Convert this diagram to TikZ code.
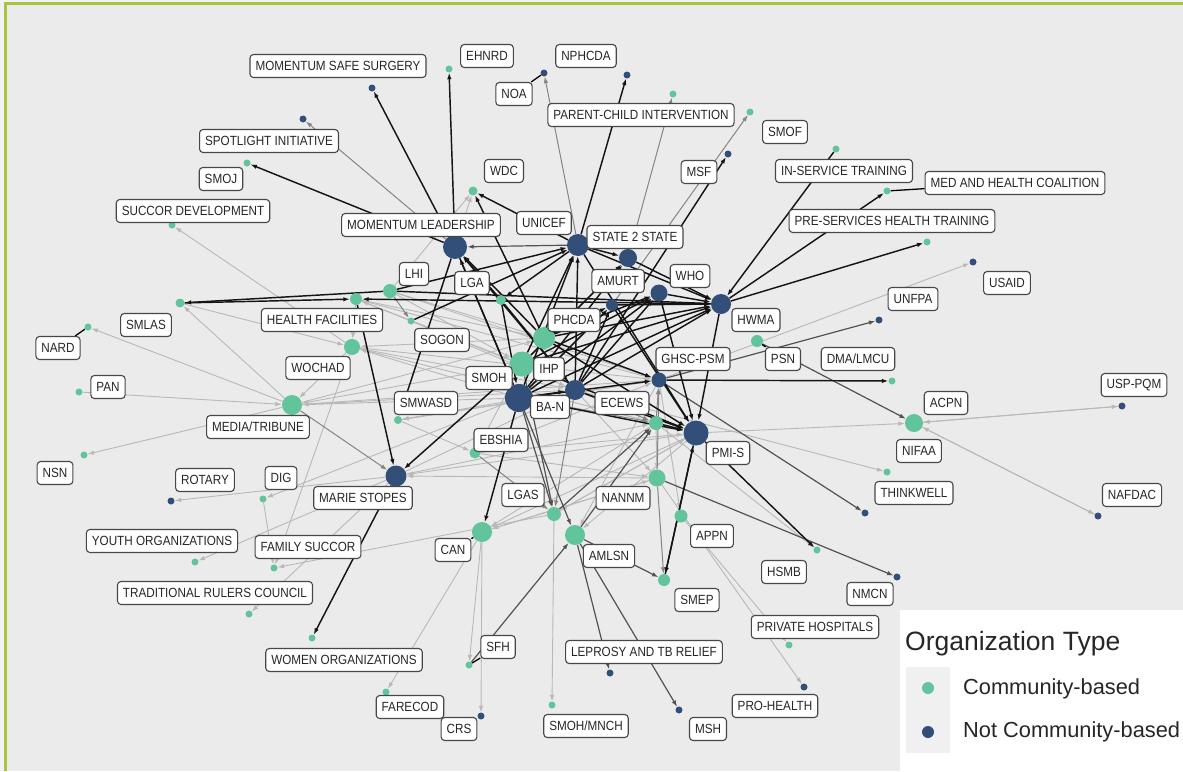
\documentclass[tikz,border=0pt]{standalone}
\usepackage{fontspec}
\setmainfont{Liberation Sans}
\newfontfamily\lblfont[FakeStretch=0.88]{Liberation Sans}
\usetikzlibrary{arrows.meta}
\pgfdeclarelayer{bgl}
\pgfdeclarelayer{edges}
\pgfsetlayers{bgl,edges,main}
\definecolor{cbg}{RGB}{235,235,235}
\definecolor{cgreen}{RGB}{98,196,155}
\definecolor{cblue}{RGB}{49,79,120}
\definecolor{cframe}{RGB}{166,196,62}
\tikzset{
 cb/.style={circle,fill=cgreen,inner sep=0pt,minimum size=#1},
 nc/.style={circle,fill=cblue,inner sep=0pt,minimum size=#1},
 lbl/.style={draw=black!72,fill=white,rounded corners=3.5pt,line width=1.1pt,inner xsep=5.5pt,inner ysep=0pt,minimum height=23pt,font=\lblfont\fontsize{13.3}{15}\selectfont,text=black!85},
 tip/.style={-{Latex[length=6.5pt,width=4.5pt]}},
 el/.style={tip,draw=black!28,line width=0.9pt},
 eg/.style={tip,draw=black!48,line width=1pt},
 ed/.style={tip,draw=black!68,line width=1.2pt},
 eb/.style={tip,draw=black!92,line width=1.45pt},
 seg/.style={draw=black,line width=1.3pt},
}
\begin{document}
\begin{tikzpicture}[x=1pt,y=-1pt]
\useasboundingbox (0,0) rectangle (1183,771);
\begin{pgfonlayer}{bgl}
\fill[black!5] (0,0) rectangle (1183,771);
\fill[cbg] (7,5) rectangle (1183,771);
\draw[cframe,line width=3pt] (5.5,771) -- (5.5,3.5) -- (1183,3.5);
\end{pgfonlayer}
% not community-based
\node[nc=7] (mss) at (372,88) {};
\node[nc=7] (spot) at (303,119) {};
\node[nc=7] (noa) at (544,73) {};
\node[nc=7] (nphcda) at (627,75) {};
\node[nc=7] (msf) at (728,154) {};
\node[nc=7] (usaid) at (973,262) {};
\node[nc=7] (unfpa) at (879,320) {};
\node[nc=7] (usp) at (1122,406) {};
\node[nc=7] (nafdac) at (1098,516) {};
\node[nc=7] (thinkb) at (865,513) {};
\node[nc=7] (nmcn) at (897,577) {};
\node[nc=7] (prohealth) at (804,687) {};
\node[nc=7] (msh) at (679,710) {};
\node[nc=7] (leprosy) at (610,673) {};
\node[nc=7] (crs) at (481,716) {};
\node[nc=7] (rotary) at (171,501) {};
\node[nc=24] (ml) at (455,247) {};
\node[nc=22] (unicef) at (578,245) {};
\node[nc=18] (s2s) at (628,258) {};
\node[nc=12] (amurt) at (612,305) {};
\node[nc=17] (who) at (659,293) {};
\node[nc=20] (hwma) at (721,304) {};
\node[nc=15] (ghsc) at (659,380) {};
\node[nc=20] (ecews) at (575,390) {};
\node[nc=28] (ban) at (519,398) {};
\node[nc=25] (pmis) at (696,433) {};
\node[nc=21] (mstopes) at (396,476) {};
% community-based
\node[cb=7] (ehnrd) at (449,69) {};
\node[cb=7] (pci) at (673,94) {};
\node[cb=7] (smof) at (750,112) {};
\node[cb=7] (ist) at (836,149) {};
\node[cb=7] (mhc) at (887,191) {};
\node[cb=7] (pst) at (927,242) {};
\node[cb=7] (smoj) at (247,163) {};
\node[cb=7] (succor) at (172,225) {};
\node[cb=9] (wdc) at (473,191) {};
\node[cb=9] (smlas) at (180,303) {};
\node[cb=7] (nard) at (88,327) {};
\node[cb=7] (pan) at (79,392) {};
\node[cb=7] (nsn) at (84,455) {};
\node[cb=7] (dig) at (263,499) {};
\node[cb=7] (youth) at (195,562) {};
\node[cb=7] (fsuccor) at (274,568) {};
\node[cb=7] (trc) at (249,614) {};
\node[cb=7] (women) at (312,638) {};
\node[cb=7] (farecod) at (386,692) {};
\node[cb=7] (sfh) at (469,665) {};
\node[cb=7] (smohm) at (552,705) {};
\node[cb=7] (privh) at (789,645) {};
\node[cb=7] (hsmb) at (817,550) {};
\node[cb=12] (smep) at (664,580) {};
\node[cb=13] (appn) at (681,516) {};
\node[cb=7] (dma) at (892,381) {};
\node[cb=7] (thinkw) at (887,472) {};
\node[cb=18] (acpn) at (914,423) {};
\node[cb=12] (psn) at (757,341) {};
\node[cb=14] (lhi) at (390,291) {};
\node[cb=12] (hf) at (356,299) {};
\node[cb=10] (lga) at (501,300) {};
\node[cb=7] (sogon) at (411,321) {};
\node[cb=16] (wochad) at (352,347) {};
\node[cb=20] (media) at (292,405) {};
\node[cb=8] (smwasd) at (398,420) {};
\node[cb=25] (smohg) at (522,364) {};
\node[cb=22] (phcda) at (544,338) {};
\node[cb=11] (ebshia) at (475,453) {};
\node[cb=14] (g656) at (656,423) {};
\node[cb=17] (g657) at (657,478) {};
\node[cb=14] (g554) at (554,514) {};
\node[cb=20] (amlsn) at (575,535) {};
\node[cb=20] (can) at (482,532) {};
% edges
\begin{pgfonlayer}{edges}
\foreach \a/\b in {ml/wdc,ghsc/usaid,pmis/acpn,acpn/usp,usp/acpn,acpn/nafdac,nafdac/acpn,ecews/thinkw,appn/privh,g657/prohealth,g554/smohm,can/crs,can/sfh,can/farecod,mstopes/youth,g554/fsuccor,mstopes/trc,ban/dig,mstopes/rotary,media/nsn,pan/media,media/nard,media/smlas,smlas/wochad,wochad/media,wochad/succor,wochad/fsuccor,ebshia/g657,ecews/smwasd,ghsc/smwasd,smohg/media,ban/media,phcda/wochad,ban/wochad,pmis/mstopes,g657/mstopes,g656/can,pmis/can,g657/can,pmis/amlsn,ghsc/amlsn,smohg/ebshia,g656/hsmb,sogon/ecews,hf/ghsc,lhi/ghsc,lhi/wdc,sogon/hf,smwasd/ebshia,ebshia/pmis,g554/pmis,wochad/ghsc,media/ecews,media/ghsc,dig/fsuccor,hf/wochad,g656/g657,ecews/g657,ghsc/appn,pmis/g554,hf/smohg,lhi/smohg,wochad/ecews,smwasd/ghsc,mstopes/ecews,media/phcda,hf/phcda,sogon/pmis,mstopes/g656,ebshia/ghsc,can/g657,wochad/pmis,lhi/phcda}
 \draw[el] (\a) -- (\b);
\foreach \a/\b in {ml/spot,unicef/noa,s2s/pci,amurt/smof,media/mstopes,g657/smep,g657/ghsc,g656/ghsc,ecews/g656,ban/g656,ecews/g554,ebshia/g554,lhi/sogon}
 \draw[eg] (\a) -- (\b);
\foreach \a/\b in {unicef/ml,ghsc/unfpa,psn/acpn,ghsc/thinkb,g657/nmcn,amlsn/smep,amlsn/msh,amlsn/leprosy,sfh/amlsn,amlsn/g656,g554/g656,ban/amlsn,ban/g554,smohg/g554}
 \draw[ed] (\a) -- (\b);
\foreach \a/\b in {ml/mss,ml/ehnrd,ml/smoj,unicef/nphcda,unicef/wdc,phcda/wdc,ecews/msf,ist/hwma,hwma/mhc,hwma/pst,lhi/smlas,smlas/hf,lhi/unicef,hf/mstopes,ml/smwasd,smohg/mstopes,ghsc/dma,ban/can,pmis/hsmb,pmis/smep,smep/pmis,mstopes/women,phcda/ml,ban/ml,ecews/ml,lga/ml,unicef/s2s,unicef/hwma,ban/unicef,smohg/unicef,ecews/unicef,unicef/lga,s2s/hwma,ban/s2s,smohg/s2s,amurt/hwma,ban/amurt,phcda/amurt,ecews/amurt,amurt/pmis,who/hwma,who/pmis,ban/who,ecews/who,phcda/who,smohg/who,ecews/hwma,ban/hwma,smohg/hwma,phcda/hwma,lhi/hwma,hwma/hf,hwma/pmis,phcda/ghsc,ban/ghsc,ban/pmis,ecews/pmis,smohg/pmis,phcda/pmis,unicef/pmis,g656/pmis,ban/ecews,lga/ecews,lga/ban,ml/ban,sogon/unicef}
 \draw[eb] (\a) -- (\b);
\end{pgfonlayer}
% labels
\node[lbl] (L-mss) at (338,66) {MOMENTUM SAFE SURGERY};
\node[lbl] (L-ehnrd) at (487,56) {EHNRD};
\node[lbl] (L-nphcda) at (586,56) {NPHCDA};
\node[lbl] (L-noa) at (514,94) {NOA};
\node[lbl] (L-pci) at (641,115) {PARENT-CHILD INTERVENTION};
\node[lbl] (L-smof) at (785,132) {SMOF};
\node[lbl] (L-spot) at (269,141) {SPOTLIGHT INITIATIVE};
\node[lbl] (L-msf) at (699,172) {MSF};
\node[lbl] (L-wdc) at (504,171) {WDC};
\node[lbl] (L-ist) at (844,171) {IN-SERVICE TRAINING};
\node[lbl] (L-smoj) at (221,179) {SMOJ};
\node[lbl] (L-mhc) at (1015,183) {MED AND HEALTH COALITION};
\node[lbl] (L-succor) at (193,211) {SUCCOR DEVELOPMENT};
\node[lbl] (L-pst) at (892,221) {PRE-SERVICES HEALTH TRAINING};
\node[lbl] (L-unicef) at (544,223) {UNICEF};
\node[lbl] (L-ml) at (421,225) {MOMENTUM LEADERSHIP};
\node[lbl] (L-s2s) at (635,237) {STATE 2 STATE};
\node[lbl] (L-lhi) at (414,274) {LHI};
\node[lbl] (L-lga) at (472,283) {LGA};
\node[lbl] (L-amurt) at (618,281) {AMURT};
\node[lbl] (L-who) at (690,276) {WHO};
\node[lbl] (L-usaid) at (1007,283) {USAID};
\node[lbl] (L-unfpa) at (913,299) {UNFPA};
\node[lbl] (L-hf) at (322,320) {HEALTH FACILITIES};
\node[lbl] (L-smlas) at (146,325) {SMLAS};
\node[lbl] (L-phcda) at (574,320) {PHCDA};
\node[lbl] (L-hwma) at (756,320) {HWMA};
\node[lbl] (L-sogon) at (442,340) {SOGON};
\node[lbl] (L-nard) at (58,348) {NARD};
\node[lbl] (L-dma) at (858,359) {DMA/LMCU};
\node[lbl] (L-psn) at (783,359) {PSN};
\node[lbl] (L-ghsc) at (693,359) {GHSC-PSM};
\node[lbl] (L-wochad) at (318,368) {WOCHAD};
\node[lbl] (L-smoh) at (489,378) {SMOH};
\node[lbl] (L-ihp) at (549,369) {IHP};
\node[lbl] (L-usp) at (1134,385) {USP-PQM};
\node[lbl] (L-pan) at (108,387) {PAN};
\node[lbl] (L-acpn) at (946,403) {ACPN};
\node[lbl] (L-smwasd) at (426,403) {SMWASD};
\node[lbl] (L-media) at (258,427) {MEDIA/TRIBUNE};
\node[lbl] (L-ban) at (550,407) {BA-N};
\node[lbl] (L-ecews) at (622,403) {ECEWS};
\node[lbl] (L-nifaa) at (919,451) {NIFAA};
\node[lbl] (L-ebshia) at (501,440) {EBSHIA};
\node[lbl] (L-pmis) at (728,453) {PMI-S};
\node[lbl] (L-nsn) at (55,473) {NSN};
\node[lbl] (L-dig) at (281,478) {DIG};
\node[lbl] (L-rotary) at (205,480) {ROTARY};
\node[lbl] (L-thinkw) at (914,493) {THINKWELL};
\node[lbl] (L-nafdac) at (1132,495) {NAFDAC};
\node[lbl] (L-lgas) at (523,495) {LGAS};
\node[lbl] (L-nannm) at (623,498) {NANNM};
\node[lbl] (L-mstopes) at (363,498) {MARIE STOPES};
\node[lbl] (L-appn) at (712,536) {APPN};
\node[lbl] (L-youth) at (162,541) {YOUTH ORGANIZATIONS};
\node[lbl] (L-fsuccor) at (308,547) {FAMILY SUCCOR};
\node[lbl] (L-can) at (453,550) {CAN};
\node[lbl] (L-amlsn) at (609,556) {AMLSN};
\node[lbl] (L-hsmb) at (784,572) {HSMB};
\node[lbl] (L-nmcn) at (870,594) {NMCN};
\node[lbl] (L-trc) at (215,593) {TRADITIONAL RULERS COUNCIL};
\node[lbl] (L-smep) at (697,600) {SMEP};
\node[lbl] (L-privh) at (815,627) {PRIVATE HOSPITALS};
\node[lbl] (L-sfh) at (498,647) {SFH};
\node[lbl] (L-leprosy) at (644,652) {LEPROSY AND TB RELIEF};
\node[lbl] (L-women) at (344,660) {WOMEN ORGANIZATIONS};
\node[lbl] (L-prohealth) at (775,706) {PRO-HEALTH};
\node[lbl] (L-farecod) at (410,707) {FARECOD};
\node[lbl] (L-smohm) at (586,726) {SMOH/MNCH};
\node[lbl] (L-msh) at (708,729) {MSH};
\node[lbl] (L-crs) at (459,729) {CRS};
% repel segments
\begin{pgfonlayer}{edges}
\foreach \a in {noa,nard,sfh,can,mhc,psn}
 \draw[seg] (\a) -- (L-\a);
\end{pgfonlayer}
% legend
\fill[white] (900,610) rectangle (1183,771);
\fill[black!6] (906,667) rectangle (950,753);
\node[anchor=base west,inner sep=0pt,font=\fontsize{26.5}{29}\selectfont,text=black!85] (lgt) at (905,650) {Organization Type};
\node[cb=12] (k1) at (928,688) {};
\node[nc=12] (k2) at (928,732) {};
\node[anchor=west,inner sep=0pt,font=\fontsize{21.8}{24}\selectfont,text=black!85] (k1t) at (963,689) {Community-based};
\node[anchor=west,inner sep=0pt,font=\fontsize{21.8}{24}\selectfont,text=black!85] (k2t) at (963,732) {Not Community-based};
\end{tikzpicture}
\end{document}
